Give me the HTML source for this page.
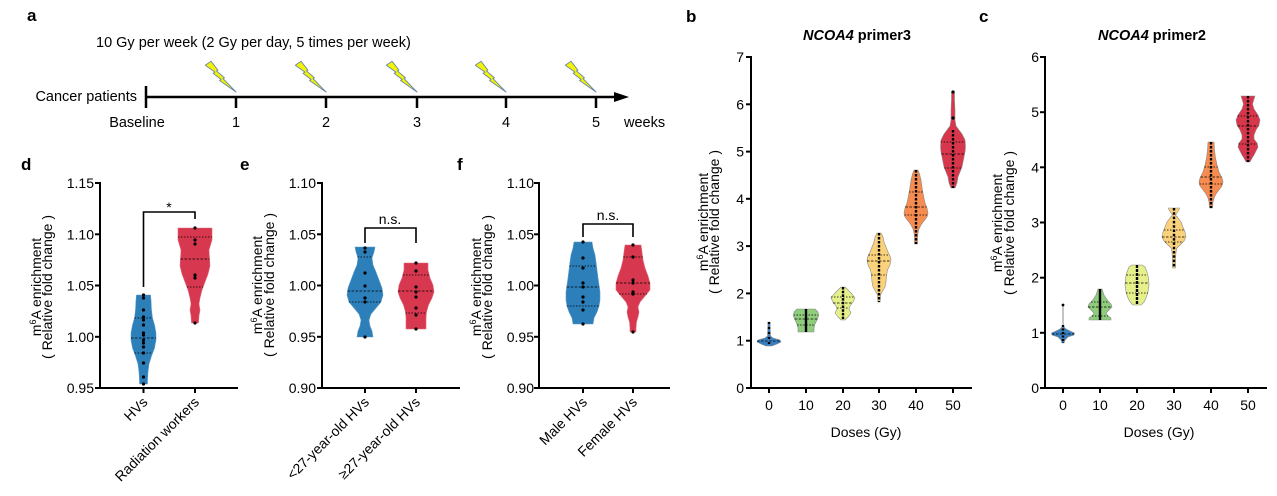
<!DOCTYPE html>
<html><head><meta charset="utf-8"><style>
html,body{margin:0;padding:0;background:#fff;}
svg{display:block;font-family:"Liberation Sans",Arial,sans-serif;}
</style></head><body>
<svg width="1277" height="496" viewBox="0 0 1277 496" xmlns="http://www.w3.org/2000/svg">
<defs>
<polygon id="bolt" points="-26.7,-23.3 -21.7,-26.7 -15.7,-19 -17,-18.3 -10,-12.3 -11.3,-11.7 0,0 -14.3,-10 -13,-11 -20,-16.3 -18.3,-17.3" fill="#f4f400" stroke="#6a88a8" stroke-width="0.8" stroke-linejoin="round"/>
</defs>
<!-- Panel letters -->
<g font-weight="bold" font-size="17" fill="#000">
<text x="27" y="21">a</text>
<text x="21" y="170">d</text>
<text x="240" y="170">e</text>
<text x="457" y="170">f</text>
<text x="686" y="22">b</text>
<text x="979" y="22">c</text>
</g>

<!-- Panel a -->
<g font-size="14.5" fill="#000">
<text x="96" y="47">10 Gy per week (2 Gy per day, 5 times per week)</text>
<text x="137" y="101" text-anchor="end">Cancer patients</text>
<text x="137" y="127" text-anchor="middle">Baseline</text>
<text x="236" y="127" text-anchor="middle">1</text>
<text x="326" y="127" text-anchor="middle">2</text>
<text x="417" y="127" text-anchor="middle">3</text>
<text x="506" y="127" text-anchor="middle">4</text>
<text x="596" y="127" text-anchor="middle">5</text>
<text x="624" y="127">weeks</text>
</g>
<g stroke="#000" stroke-width="2.5">
<line x1="146" y1="97" x2="618" y2="97"/>
<line x1="146" y1="86" x2="146" y2="108"/>
<line x1="236" y1="97" x2="236" y2="108"/>
<line x1="326" y1="97" x2="326" y2="108"/>
<line x1="417" y1="97" x2="417" y2="108"/>
<line x1="506" y1="97" x2="506" y2="108"/>
<line x1="596" y1="97" x2="596" y2="108"/>
</g>
<polygon points="614,92 629,97 614,102" fill="#000"/>
<use href="#bolt" transform="translate(236,92) scale(1.15)"/>
<use href="#bolt" transform="translate(326,92) scale(1.15)"/>
<use href="#bolt" transform="translate(417,92) scale(1.15)"/>
<use href="#bolt" transform="translate(506,92) scale(1.15)"/>
<use href="#bolt" transform="translate(596,92) scale(1.15)"/>

<!-- ================= Panel d ================= -->
<g stroke="#000" stroke-width="2" fill="none">
<line x1="100" y1="182" x2="100" y2="389"/>
<line x1="99" y1="388" x2="238" y2="388"/>
<line x1="95" y1="183" x2="100" y2="183"/>
<line x1="95" y1="234.3" x2="100" y2="234.3"/>
<line x1="95" y1="285.5" x2="100" y2="285.5"/>
<line x1="95" y1="336.8" x2="100" y2="336.8"/>
<line x1="95" y1="388" x2="100" y2="388"/>
<line x1="143.5" y1="388" x2="143.5" y2="393"/>
<line x1="195" y1="388" x2="195" y2="393"/>
</g>
<g font-size="14" text-anchor="end">
<text x="94" y="188">1.15</text>
<text x="94" y="239.3">1.10</text>
<text x="94" y="290.5">1.05</text>
<text x="94" y="341.8">1.00</text>
<text x="94" y="393">0.95</text>
<text transform="translate(148.5,403) rotate(-45)">HVs</text>
<text transform="translate(200,403) rotate(-45)">Radiation workers</text>
</g>
<g font-size="14" text-anchor="middle">
<text transform="translate(41,287) rotate(-90)">m<tspan font-size="9" dy="-5">6</tspan><tspan dy="5">A enrichment</tspan></text>
<text transform="translate(52,287) rotate(-90)">( Relative fold change )</text>
</g>
<path d="M143.5,287 L143.5,212 L195,212 L195,219" stroke="#000" stroke-width="1.6" fill="none"/>
<text x="169" y="212" font-size="14" text-anchor="middle">*</text>
<path d="M136.5,295 L136,300 L135.5,310 L134.5,318 L132.5,325 L131,333 L131,340 L132.5,348 L135.5,356 L138,364 L139,372 L139.5,380 L139.5,384 L147.5,384 L147.5,380 L148,372 L149,364 L151.5,356 L154.5,348 L156,340 L156,333 L154.5,325 L152.5,318 L151.5,310 L151,300 L150.5,295 Z" fill="#2c7fb8" stroke="#5d9bc8" stroke-width="0.6"/>
<path d="M178,228 L178,240 L181,250 L180.5,258 L180,266 L182,274 L185,282 L188,290 L190,298 L191,304 L190,310 L191,316 L191.5,323 L198.5,323 L199,316 L200,310 L199,304 L200,298 L202,290 L205,282 L208,274 L210,266 L209.5,258 L209,250 L212,240 L212,228 Z" fill="#d7384f" stroke="#e06a7c" stroke-width="0.6"/>
<g stroke="#000" stroke-width="0.8" fill="none">
<line x1="134.5" y1="318" x2="152.5" y2="318" stroke-dasharray="1.5 1.5"/>
<line x1="131" y1="338" x2="156" y2="338" stroke-dasharray="2.5 1.5"/>
<line x1="134.5" y1="353" x2="152.5" y2="353" stroke-dasharray="1.5 1.5"/>
<line x1="178" y1="237" x2="212" y2="237" stroke-dasharray="1.5 1.5"/>
<line x1="180.5" y1="259" x2="209.5" y2="259" stroke-dasharray="2.5 1.5"/>
<line x1="187" y1="287" x2="203" y2="287" stroke-dasharray="1.5 1.5"/>
</g>
<g fill="#000">
<circle cx="143.5" cy="295" r="1.6"/><circle cx="143.5" cy="298" r="1.6"/><circle cx="143.5" cy="310" r="1.6"/><circle cx="143.5" cy="317" r="1.6"/><circle cx="143.5" cy="320" r="1.6"/><circle cx="143.5" cy="325" r="1.6"/><circle cx="143.5" cy="333" r="1.6"/><circle cx="143.5" cy="335" r="1.6"/><circle cx="143.5" cy="340" r="1.6"/><circle cx="143.5" cy="343" r="1.6"/><circle cx="143.5" cy="347" r="1.6"/><circle cx="143.5" cy="353" r="1.6"/><circle cx="143.5" cy="363" r="1.6"/><circle cx="143.5" cy="377" r="1.6"/><circle cx="143.5" cy="384" r="1.6"/>
<circle cx="195" cy="228" r="1.6"/><circle cx="195" cy="240" r="1.6"/><circle cx="195" cy="244" r="1.6"/><circle cx="195" cy="275" r="1.6"/><circle cx="195" cy="278" r="1.6"/><circle cx="195" cy="323" r="1.6"/>
</g>

<!-- ================= Panel e ================= -->
<g stroke="#000" stroke-width="2" fill="none">
<line x1="322" y1="182" x2="322" y2="389"/>
<line x1="321" y1="388" x2="460" y2="388"/>
<line x1="317" y1="183" x2="322" y2="183"/>
<line x1="317" y1="234.3" x2="322" y2="234.3"/>
<line x1="317" y1="285.5" x2="322" y2="285.5"/>
<line x1="317" y1="336.8" x2="322" y2="336.8"/>
<line x1="317" y1="388" x2="322" y2="388"/>
<line x1="365" y1="388" x2="365" y2="393"/>
<line x1="416" y1="388" x2="416" y2="393"/>
</g>
<g font-size="14" text-anchor="end">
<text x="316" y="188">1.10</text>
<text x="316" y="239.3">1.05</text>
<text x="316" y="290.5">1.00</text>
<text x="316" y="341.8">0.95</text>
<text x="316" y="393">0.90</text>
<text transform="translate(370,403) rotate(-45)">&lt;27-year-old HVs</text>
<text transform="translate(421,403) rotate(-45)">≥27-year-old HVs</text>
</g>
<g font-size="14" text-anchor="middle">
<text transform="translate(262,285) rotate(-90)">m<tspan font-size="9" dy="-5">6</tspan><tspan dy="5">A enrichment</tspan></text>
<text transform="translate(274,285) rotate(-90)">( Relative fold change )</text>
</g>
<path d="M365,243 L365,228 L416,228 L416,243" stroke="#000" stroke-width="1.6" fill="none"/>
<text x="390" y="224" font-size="14" text-anchor="middle">n.s.</text>
<path d="M355,247 L356,252 L358,258 L357,265 L354,272 L351,280 L348,288 L347,295 L349,302 L354,308 L359,314 L361,320 L360,326 L358,331 L357,337 L373,337 L372,331 L370,326 L369,320 L371,314 L376,308 L381,302 L383,295 L382,288 L379,280 L376,272 L373,265 L372,258 L374,252 L375,247 Z" fill="#2c7fb8" stroke="#5d9bc8" stroke-width="0.6"/>
<path d="M404,263 L404,270 L402,278 L399,285 L398,292 L400,298 L403.5,305 L405.5,312 L406,318 L406,324 L406,329 L426,329 L426,324 L426,318 L426.5,312 L428.5,305 L432,298 L434,292 L433,285 L430,278 L428,270 L428,263 Z" fill="#d7384f" stroke="#e06a7c" stroke-width="0.6"/>
<g stroke="#000" stroke-width="0.8" fill="none">
<line x1="357.5" y1="257" x2="372.5" y2="257" stroke-dasharray="1.5 1.5"/>
<line x1="347.5" y1="291" x2="382.5" y2="291" stroke-dasharray="2.5 1.5"/>
<line x1="349" y1="302" x2="381" y2="302" stroke-dasharray="1.5 1.5"/>
<line x1="403" y1="275" x2="429" y2="275" stroke-dasharray="1.5 1.5"/>
<line x1="398" y1="291" x2="434" y2="291" stroke-dasharray="2.5 1.5"/>
<line x1="405.5" y1="313" x2="426.5" y2="313" stroke-dasharray="1.5 1.5"/>
</g>
<g fill="#000">
<circle cx="365" cy="248" r="1.6"/><circle cx="365" cy="252" r="1.6"/><circle cx="365" cy="273" r="1.6"/><circle cx="365" cy="286" r="1.6"/><circle cx="365" cy="298" r="1.6"/><circle cx="365" cy="302" r="1.6"/><circle cx="365" cy="337" r="1.6"/>
<circle cx="416" cy="263" r="1.6"/><circle cx="416" cy="271" r="1.6"/><circle cx="416" cy="287" r="1.6"/><circle cx="416" cy="292" r="1.6"/><circle cx="416" cy="297" r="1.6"/><circle cx="416" cy="308" r="1.6"/><circle cx="416" cy="315" r="1.6"/><circle cx="416" cy="329" r="1.6"/>
</g>

<!-- ================= Panel f ================= -->
<g stroke="#000" stroke-width="2" fill="none">
<line x1="539" y1="182" x2="539" y2="389"/>
<line x1="538" y1="388" x2="670" y2="388"/>
<line x1="534" y1="183" x2="539" y2="183"/>
<line x1="534" y1="234.3" x2="539" y2="234.3"/>
<line x1="534" y1="285.5" x2="539" y2="285.5"/>
<line x1="534" y1="336.8" x2="539" y2="336.8"/>
<line x1="534" y1="388" x2="539" y2="388"/>
<line x1="583" y1="388" x2="583" y2="393"/>
<line x1="633" y1="388" x2="633" y2="393"/>
</g>
<g font-size="14" text-anchor="end">
<text x="534" y="188">1.10</text>
<text x="534" y="239.3">1.05</text>
<text x="534" y="290.5">1.00</text>
<text x="534" y="341.8">0.95</text>
<text x="534" y="393">0.90</text>
<text transform="translate(588,403) rotate(-45)">Male HVs</text>
<text transform="translate(638,403) rotate(-45)">Female HVs</text>
</g>
<g font-size="14" text-anchor="middle">
<text transform="translate(481,287) rotate(-90)">m<tspan font-size="9" dy="-5">6</tspan><tspan dy="5">A enrichment</tspan></text>
<text transform="translate(492,287) rotate(-90)">( Relative fold change )</text>
</g>
<path d="M583,237 L583,224 L633,224 L633,237" stroke="#000" stroke-width="1.6" fill="none"/>
<text x="608" y="220" font-size="14" text-anchor="middle">n.s.</text>
<path d="M574,242 L573,248 L571,255 L570,262 L569,270 L568,278 L567,285 L566,292 L566,300 L567,306 L569,312 L572,318 L573,324 L593,324 L594,318 L597,312 L599,306 L600,300 L600,292 L599,285 L598,278 L597,270 L596,262 L595,255 L593,248 L592,242 Z" fill="#2c7fb8" stroke="#5d9bc8" stroke-width="0.6"/>
<path d="M625,245 L624,252 L623,260 L621,268 L618,276 L616,283 L616,290 L621,296 L626,302 L628,307 L627,312 L628,317 L629.5,322 L630,328 L630,332 L636,332 L636,328 L636.5,322 L638,317 L639,312 L638,307 L640,302 L645,296 L650,290 L650,283 L648,276 L645,268 L643,260 L642,252 L641,245 Z" fill="#d7384f" stroke="#e06a7c" stroke-width="0.6"/>
<g stroke="#000" stroke-width="0.8" fill="none">
<line x1="569.5" y1="266" x2="596.5" y2="266" stroke-dasharray="1.5 1.5"/>
<line x1="566.7" y1="287" x2="599.3" y2="287" stroke-dasharray="2.5 1.5"/>
<line x1="567" y1="306" x2="599" y2="306" stroke-dasharray="1.5 1.5"/>
<line x1="623.4" y1="257" x2="642.6" y2="257" stroke-dasharray="1.5 1.5"/>
<line x1="616" y1="283" x2="650" y2="283" stroke-dasharray="2.5 1.5"/>
<line x1="619" y1="294" x2="647" y2="294" stroke-dasharray="1.5 1.5"/>
</g>
<g fill="#000">
<circle cx="583" cy="242" r="1.6"/><circle cx="583" cy="258" r="1.6"/><circle cx="583" cy="268" r="1.6"/><circle cx="583" cy="283" r="1.6"/><circle cx="583" cy="287" r="1.6"/><circle cx="583" cy="297" r="1.6"/><circle cx="583" cy="302" r="1.6"/><circle cx="583" cy="310" r="1.6"/><circle cx="583" cy="324" r="1.6"/>
<circle cx="633" cy="245" r="1.6"/><circle cx="633" cy="257" r="1.6"/><circle cx="633" cy="280" r="1.6"/><circle cx="633" cy="283" r="1.6"/><circle cx="633" cy="292" r="1.6"/><circle cx="633" cy="294" r="1.6"/><circle cx="633" cy="332" r="1.6"/>
</g>

<!-- ================= Panel b ================= -->
<text x="857" y="40" font-size="14.5" font-weight="bold" text-anchor="middle"><tspan font-style="italic">NCOA4</tspan> primer3</text>
<g stroke="#000" stroke-width="2" fill="none">
<line x1="751" y1="56" x2="751" y2="389"/>
<line x1="750" y1="388" x2="972" y2="388"/>
<line x1="746" y1="57" x2="751" y2="57"/>
<line x1="746" y1="104.3" x2="751" y2="104.3"/>
<line x1="746" y1="151.6" x2="751" y2="151.6"/>
<line x1="746" y1="198.8" x2="751" y2="198.8"/>
<line x1="746" y1="246.1" x2="751" y2="246.1"/>
<line x1="746" y1="293.4" x2="751" y2="293.4"/>
<line x1="746" y1="340.7" x2="751" y2="340.7"/>
<line x1="746" y1="388" x2="751" y2="388"/>
<line x1="769" y1="388" x2="769" y2="393"/>
<line x1="806" y1="388" x2="806" y2="393"/>
<line x1="843" y1="388" x2="843" y2="393"/>
<line x1="879" y1="388" x2="879" y2="393"/>
<line x1="916" y1="388" x2="916" y2="393"/>
<line x1="953" y1="388" x2="953" y2="393"/>
</g>
<g font-size="14" text-anchor="end">
<text x="744" y="62">7</text>
<text x="744" y="109.3">6</text>
<text x="744" y="156.6">5</text>
<text x="744" y="203.8">4</text>
<text x="744" y="251.1">3</text>
<text x="744" y="298.4">2</text>
<text x="744" y="345.7">1</text>
<text x="744" y="393">0</text>
</g>
<g font-size="14" text-anchor="middle">
<text x="769" y="410">0</text>
<text x="806" y="410">10</text>
<text x="843" y="410">20</text>
<text x="879" y="410">30</text>
<text x="916" y="410">40</text>
<text x="953" y="410">50</text>
<text x="866" y="437">Doses (Gy)</text>
<text transform="translate(708,222) rotate(-90)">m<tspan font-size="9" dy="-5">6</tspan><tspan dy="5">A enrichment</tspan></text>
<text transform="translate(719,222) rotate(-90)">( Relative fold change )</text>
</g>
<g stroke="#8a8a8a" stroke-width="0.6" stroke-linejoin="round">
<path d="M768,322 L767.5,336 L765,338 L758,340 L757,342 L761,344 L766,346 L772,346 L777,344 L781,342 L780,340 L773,338 L770.5,336 L770,322 Z" fill="#3a7fbd"/>
<path d="M797,309 L794,312 L793.5,316 L795,320 L797,324 L798,328 L798,332 L814,332 L814,328 L815,324 L817,320 L818.5,316 L818,312 L815,309 Z" fill="#8fcc7c"/>
<path d="M841,287 L838,290 L834,294 L831,298 L833,302 L836,306 L837,309 L835,313 L838,317 L841,320 L845,320 L848,317 L851,313 L849,309 L850,306 L853,302 L855,298 L852,294 L848,290 L845,287 Z" fill="#e6f08a"/>
<path d="M877,233 L875,237 L874,242 L872,247 L870,252 L868,256 L867,260 L868,265 L870.5,270 L871.5,276 L872,282 L873,287 L875.5,291 L877.5,295 L878,302 L880,302 L880.5,295 L882.5,291 L885,287 L886,282 L886.5,276 L887.5,270 L890,265 L891,260 L890,256 L888,252 L886,247 L884,242 L883,237 L881,233 Z" fill="#fbd27c"/>
<path d="M914,170 L912.5,174 L911,180 L910,187 L909,193 L908,198 L907,203 L905,208 L904,213 L905,217 L908,221 L911,225 L913,229 L914,233 L914.5,238 L914.5,244 L917.5,244 L917.5,238 L918,233 L919,229 L921,225 L924,221 L927,217 L928,213 L927,208 L925,203 L924,198 L923,193 L922,187 L921,180 L919.5,174 L918,170 Z" fill="#f68c4f"/>
<path d="M951.5,92 L951.5,100 L951,110 L951,120 L950,126 L947,130 L944,134 L941,140 L940.5,147 L941,152 L942,157 L943,162 L944,167 L946,172 L948,177 L949,183 L951,188 L955,188 L957,183 L958,177 L960,172 L962,167 L963,162 L964,157 L965,152 L965.5,147 L965,140 L962,134 L959,130 L956,126 L955,120 L955,110 L954.5,100 L954.5,92 Z" fill="#d8374b"/>
</g>
<g stroke="#000" stroke-width="0.8" fill="none">
<line x1="757" y1="341" x2="781" y2="341" stroke-dasharray="2.5 1.5"/>
<line x1="793.5" y1="315" x2="818.5" y2="315" stroke-dasharray="1.5 1.5"/>
<line x1="794.7" y1="319" x2="817.3" y2="319" stroke-dasharray="2.5 1.5"/>
<line x1="797.2" y1="325" x2="814.8" y2="325" stroke-dasharray="1.5 1.5"/>
<line x1="831" y1="297" x2="855" y2="297" stroke-dasharray="1.5 1.5"/>
<line x1="833" y1="303" x2="853" y2="303" stroke-dasharray="2.5 1.5"/>
<line x1="837" y1="308" x2="849" y2="308" stroke-dasharray="1.5 1.5"/>
<line x1="868.5" y1="255" x2="889.5" y2="255" stroke-dasharray="1.5 1.5"/>
<line x1="867" y1="261" x2="891" y2="261" stroke-dasharray="2.5 1.5"/>
<line x1="871.3" y1="275" x2="886.7" y2="275" stroke-dasharray="1.5 1.5"/>
<line x1="909" y1="192" x2="923" y2="192" stroke-dasharray="1.5 1.5"/>
<line x1="905.4" y1="207" x2="926.6" y2="207" stroke-dasharray="2.5 1.5"/>
<line x1="904.5" y1="215" x2="927.5" y2="215" stroke-dasharray="1.5 1.5"/>
<line x1="940.8" y1="142" x2="965.2" y2="142" stroke-dasharray="1.5 1.5"/>
<line x1="941.4" y1="154" x2="964.6" y2="154" stroke-dasharray="2.5 1.5"/>
<line x1="944.4" y1="168" x2="961.6" y2="168" stroke-dasharray="1.5 1.5"/>
</g>
<g stroke="#000" stroke-width="2.4" fill="none">
<line x1="769" y1="322" x2="769" y2="346" stroke-dasharray="2 3"/>
<line x1="806" y1="309" x2="806" y2="332"/>
<line x1="843" y1="287" x2="843" y2="320" stroke-dasharray="2.5 1.2"/>
<line x1="879" y1="233" x2="879" y2="302" stroke-dasharray="2.5 1.5"/>
<line x1="916" y1="170" x2="916" y2="244" stroke-dasharray="2.5 1.5"/>
<line x1="953" y1="130" x2="953" y2="188" stroke-dasharray="2.5 1.5"/>
</g>
<g fill="#000"><circle cx="953" cy="92" r="1.6"/><circle cx="953" cy="118" r="1.6"/></g>

<!-- ================= Panel c ================= -->
<text x="1152" y="40" font-size="14.5" font-weight="bold" text-anchor="middle"><tspan font-style="italic">NCOA4</tspan> primer2</text>
<g stroke="#000" stroke-width="2" fill="none">
<line x1="1045" y1="56" x2="1045" y2="389"/>
<line x1="1044" y1="388" x2="1267" y2="388"/>
<line x1="1040" y1="57" x2="1045" y2="57"/>
<line x1="1040" y1="112.2" x2="1045" y2="112.2"/>
<line x1="1040" y1="167.3" x2="1045" y2="167.3"/>
<line x1="1040" y1="222.5" x2="1045" y2="222.5"/>
<line x1="1040" y1="277.7" x2="1045" y2="277.7"/>
<line x1="1040" y1="332.8" x2="1045" y2="332.8"/>
<line x1="1040" y1="388" x2="1045" y2="388"/>
<line x1="1063" y1="388" x2="1063" y2="393"/>
<line x1="1100" y1="388" x2="1100" y2="393"/>
<line x1="1137" y1="388" x2="1137" y2="393"/>
<line x1="1174" y1="388" x2="1174" y2="393"/>
<line x1="1211" y1="388" x2="1211" y2="393"/>
<line x1="1248" y1="388" x2="1248" y2="393"/>
</g>
<g font-size="14" text-anchor="end">
<text x="1039" y="62">6</text>
<text x="1039" y="117.2">5</text>
<text x="1039" y="172.3">4</text>
<text x="1039" y="227.5">3</text>
<text x="1039" y="282.7">2</text>
<text x="1039" y="337.8">1</text>
<text x="1039" y="393">0</text>
</g>
<g font-size="14" text-anchor="middle">
<text x="1063" y="410">0</text>
<text x="1100" y="410">10</text>
<text x="1137" y="410">20</text>
<text x="1174" y="410">30</text>
<text x="1211" y="410">40</text>
<text x="1248" y="410">50</text>
<text x="1159" y="437">Doses (Gy)</text>
<text transform="translate(1002,223) rotate(-90)">m<tspan font-size="9" dy="-5">6</tspan><tspan dy="5">A enrichment</tspan></text>
<text transform="translate(1014,223) rotate(-90)">( Relative fold change )</text>
</g>
<line x1="1063" y1="305" x2="1063" y2="328" stroke="#b0b0b0" stroke-width="1.5"/>
<g stroke="#8a8a8a" stroke-width="0.6" stroke-linejoin="round">
<path d="M1062,327 L1060,329 L1056,331 L1051.5,333 L1052,335 L1058,337 L1061,340 L1062,343 L1064,343 L1065,340 L1068,337 L1074,335 L1074.5,333 L1070,331 L1066,329 L1064,327 Z" fill="#3a7fbd"/>
<path d="M1098,289 L1097,292 L1096,295 L1094,298 L1092,301 L1089,304 L1088,307 L1091,310 L1094,313 L1092,316 L1089,318 L1089,320 L1111,320 L1111,318 L1108,316 L1106,313 L1109,310 L1112,307 L1111,304 L1108,301 L1106,298 L1104,295 L1103,292 L1102,289 Z" fill="#8fcc7c"/>
<path d="M1132,265 L1129,267 L1127,272 L1125.5,278 L1125,285 L1126,292 L1128,298 L1130,302 L1133,305 L1141,305 L1144,302 L1146,298 L1148,292 L1149,285 L1148.5,278 L1147,272 L1145,267 L1142,265 Z" fill="#e6f08a"/>
<path d="M1168.5,208 L1169,210 L1171,213 L1172.5,215 L1170,218 L1167,222 L1165,227 L1163,232 L1162,237 L1164,241 L1168,245 L1171,248 L1172,252 L1172.5,260 L1172.5,268 L1175.5,268 L1175.5,260 L1176,252 L1177,248 L1180,245 L1184,241 L1186,237 L1185,232 L1183,227 L1181,222 L1178,218 L1175.5,215 L1177,213 L1179,210 L1179.5,208 Z" fill="#fbd27c"/>
<path d="M1208,142 L1207.5,150 L1206.5,158 L1205,165 L1203,172 L1200,178 L1199,182 L1200,186 L1203,190 L1206,194 L1208,198 L1209,202 L1209.5,208 L1212.5,208 L1213,202 L1214,198 L1216,194 L1219,190 L1222,186 L1223,182 L1222,178 L1219,172 L1217,165 L1215.5,158 L1214.5,150 L1214,142 Z" fill="#f68c4f"/>
<path d="M1241,96 L1242,99 L1243.5,104 L1242,109 L1238,115 L1236,120 L1237,125 L1240,130 L1242,135 L1242,139 L1239,143 L1238,147 L1240,151 L1242,155 L1244.5,159 L1246,162 L1250,162 L1251.5,159 L1254,155 L1256,151 L1258,147 L1257,143 L1254,139 L1254,135 L1256,130 L1259,125 L1260,120 L1258,115 L1254,109 L1252.5,104 L1254,99 L1255,96 Z" fill="#d8374b"/>
</g>
<g stroke="#000" stroke-width="0.8" fill="none">
<line x1="1052" y1="334" x2="1074" y2="334" stroke-dasharray="2.5 1.5"/>
<line x1="1091" y1="302" x2="1109" y2="302" stroke-dasharray="1.5 1.5"/>
<line x1="1088" y1="307" x2="1112" y2="307" stroke-dasharray="2.5 1.5"/>
<line x1="1092" y1="316" x2="1108" y2="316" stroke-dasharray="1.5 1.5"/>
<line x1="1126.5" y1="275" x2="1147.5" y2="275" stroke-dasharray="1.5 1.5"/>
<line x1="1125" y1="283" x2="1149" y2="283" stroke-dasharray="2.5 1.5"/>
<line x1="1126" y1="293" x2="1148" y2="293" stroke-dasharray="1.5 1.5"/>
<line x1="1164" y1="230" x2="1184" y2="230" stroke-dasharray="1.5 1.5"/>
<line x1="1162" y1="237" x2="1186" y2="237" stroke-dasharray="2.5 1.5"/>
<line x1="1165" y1="242" x2="1183" y2="242" stroke-dasharray="1.5 1.5"/>
<line x1="1204.5" y1="167" x2="1217.5" y2="167" stroke-dasharray="1.5 1.5"/>
<line x1="1200.5" y1="177" x2="1221.5" y2="177" stroke-dasharray="2.5 1.5"/>
<line x1="1199.5" y1="184" x2="1222.5" y2="184" stroke-dasharray="1.5 1.5"/>
<line x1="1237.7" y1="116" x2="1258.3" y2="116" stroke-dasharray="1.5 1.5"/>
<line x1="1237.5" y1="126" x2="1258.5" y2="126" stroke-dasharray="2.5 1.5"/>
<line x1="1238.7" y1="144" x2="1257.3" y2="144" stroke-dasharray="1.5 1.5"/>
</g>
<g stroke="#000" stroke-width="2.4" fill="none">
<line x1="1063" y1="325" x2="1063" y2="343" stroke-dasharray="2 1.5"/>
<line x1="1100" y1="289" x2="1100" y2="320"/>
<line x1="1137" y1="265" x2="1137" y2="305" stroke-dasharray="3 1"/>
<line x1="1174" y1="208" x2="1174" y2="268" stroke-dasharray="2.5 1.8"/>
<line x1="1211" y1="142" x2="1211" y2="208" stroke-dasharray="2.5 1.5"/>
<line x1="1248" y1="96" x2="1248" y2="162" stroke-dasharray="2.5 1.5"/>
</g>
<circle cx="1063" cy="305" r="1.4" fill="#000"/>
</svg>
</body></html>
